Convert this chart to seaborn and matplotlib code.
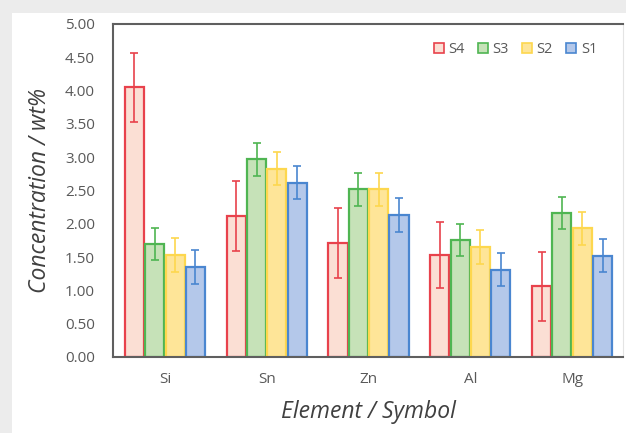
import matplotlib
matplotlib.use("Agg")
import matplotlib.pyplot as plt
import seaborn as sns
import pandas as pd
from matplotlib.patches import Patch, Rectangle

elements = ["Si", "Sn", "Zn", "Al", "Mg"]
samples = ["S4", "S3", "S2", "S1"]

s4 = [4.05, 2.12, 1.71, 1.53, 1.06]
s3 = [1.70, 2.97, 2.52, 1.76, 2.16]
s2 = [1.53, 2.83, 2.52, 1.65, 1.93]
s1 = [1.35, 2.62, 2.13, 1.31, 1.52]

s4_err = [0.52, 0.53, 0.52, 0.50, 0.52]
s3_err = [0.24, 0.25, 0.25, 0.24, 0.24]
s2_err = [0.25, 0.25, 0.25, 0.25, 0.25]
s1_err = [0.25, 0.25, 0.25, 0.25, 0.25]

face_colors = ["#fbdfd4", "#c6e2b8", "#fee598", "#b4c8ea"]
edge_colors = ["#e8424c", "#4fb552", "#fdd74e", "#4a86d0"]

values = [s4, s3, s2, s1]
errors = [s4_err, s3_err, s2_err, s1_err]

rows = []
for s, vals in zip(samples, values):
    for e, v in zip(elements, vals):
        rows.append({"Element": e, "Sample": s, "Concentration": v})
df = pd.DataFrame(rows)

sns.set_style("white")
plt.rcParams["font.family"] = ["Open Sans", "DejaVu Sans"]

fig = plt.figure(figsize=(6.26, 4.33), dpi=100)
fig.patch.set_facecolor("#ececec")
fig.patches.append(Rectangle((12 / 626, 0), 1, 1 - 13 / 433, transform=fig.transFigure,
                             facecolor="white", edgecolor="none", zorder=-10))
ax = fig.add_axes([113 / 626, 1 - 357 / 433, 510 / 626, 333 / 433])

sns.barplot(data=df, x="Element", y="Concentration", hue="Sample",
            hue_order=samples, order=elements, palette=face_colors,
            saturation=1, width=0.8, gap=0.06, ax=ax, legend=False)

for cont, ec, err, vals in zip(ax.containers, edge_colors, errors, values):
    xs = []
    for bar in cont:
        bar.set_edgecolor(ec)
        bar.set_linewidth(1.6)
        xs.append(bar.get_x() + bar.get_width() / 2)
    ax.errorbar(xs, vals, yerr=err, fmt="none", ecolor=ec, elinewidth=1.2,
                capsize=3, capthick=1.2, zorder=5)

ax.set_xlim(-0.51, 4.5)
ax.set_ylim(0, 5)
ax.set_yticks([i * 0.5 for i in range(11)])
ax.set_yticklabels([f"{i * 0.5:.2f}" for i in range(11)])

for side in ["left", "bottom", "top"]:
    ax.spines[side].set_visible(True)
    ax.spines[side].set_color("#5f5f5f")
    ax.spines[side].set_linewidth(1.5)
ax.spines["right"].set_visible(True)
ax.spines["right"].set_color("#e4e4e4")
ax.spines["right"].set_linewidth(0.8)

ax.tick_params(axis="y", direction="in", length=3, width=1, color="#5f5f5f",
               labelsize=11, labelcolor="#595959", pad=13)
ax.tick_params(axis="x", length=0, labelsize=11, labelcolor="#595959", pad=11)

ax.set_xlabel("Element / Symbol", fontsize=16.5, style="italic", color="#404040", labelpad=9)
ax.set_ylabel("Concentration / wt%", fontsize=16.5, style="italic", color="#404040", labelpad=9)

handles = [Patch(facecolor=fc, edgecolor=ec, linewidth=1.2)
           for fc, ec in zip(face_colors, edge_colors)]
leg = ax.legend(handles, samples, ncol=4, frameon=False, loc="upper right",
                bbox_to_anchor=(0.975, 0.985), handlelength=0.7, handleheight=0.7,
                handletextpad=0.3, columnspacing=0.9, fontsize=10.5)
for t in leg.get_texts():
    t.set_color("#595959")

fig.savefig("out.png", dpi=100, facecolor=fig.get_facecolor())
